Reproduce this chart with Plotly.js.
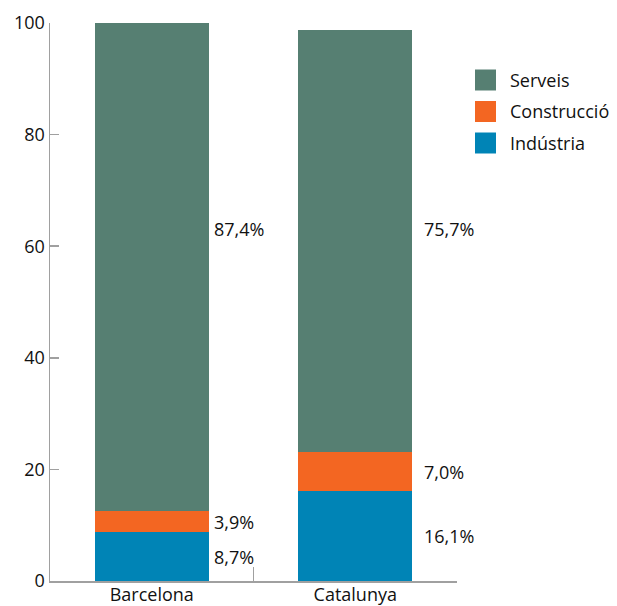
<!DOCTYPE html>
<html>
<head>
<meta charset="utf-8">
<script src="https://cdn.plot.ly/plotly-3.0.1.min.js"></script>
<style>html,body{margin:0;padding:0;background:#fff;}#chart{width:617px;height:606px;}</style>
</head>
<body>
<div id="chart"></div>
<script>
const categories = ["Barcelona", "Catalunya"];
const seriesNames = ["Indústria", "Construcció", "Serveis"];
const industria = [8.7, 16.1];
const construccio = [3.9, 7.0];
const serveis = [87.4, 75.7];
const yTicks = [0, 20, 40, 60, 80, 100];

const values = [industria, construccio, serveis];
const colors = ["#0084b6", "#f36622", "#567f72"];
const FONT = "Open Sans, Noto Sans, sans-serif";
const barWidth = 0.56;
const labelGap = [3, 10];
const topLabelY = 63;

const W = 617, H = 606, mL = 50, mR = 160, mT = 23, mB = 25;
const pw = W - mL - mR, ph = H - mT - mB;
const px2x = p => (p - mL) / pw;
const px2y = p => (H - mB - p) / ph;

const traces = values.map((v, i) => ({
  type: "bar",
  name: seriesNames[i],
  x: categories,
  y: v,
  width: barWidth,
  marker: {color: colors[i], line: {width: 0}},
  hoverinfo: "none",
  showlegend: false
}));

const fmt = v => v.toFixed(1).replace(".", ",") + "%";
const annotations = [];
categories.forEach((c, ci) => {
  let base = 0;
  values.forEach((v, si) => {
    const mid = base + v[ci] / 2;
    const y = (si === values.length - 1) ? topLabelY : mid;
    annotations.push({
      x: ci + barWidth / 2, y: y, xref: "x", yref: "y",
      text: fmt(v[ci]), showarrow: false,
      xanchor: "left", yanchor: "middle", xshift: labelGap[ci],
      font: {family: FONT, size: 18, color: "#111"}
    });
    base += v[ci];
  });
});

// custom legend (Serveis on top)
const shapes = [];
const legendOrder = [2, 1, 0];
legendOrder.forEach((si, k) => {
  const cy = 80 + k * 31.5;
  shapes.push({
    type: "rect", xref: "paper", yref: "paper",
    x0: px2x(475), x1: px2x(496), y0: px2y(cy + 10.5), y1: px2y(cy - 10.5),
    fillcolor: colors[si], line: {width: 0}
  });
  annotations.push({
    xref: "paper", yref: "paper", x: px2x(508), y: px2y(cy),
    xanchor: "left", yanchor: "middle", showarrow: false,
    text: seriesNames[si], font: {family: FONT, size: 18, color: "#111"}
  });
});

const layout = {
  width: W, height: H,
  margin: {l: mL, r: mR, t: mT, b: mB, pad: 0},
  barmode: "stack",
  paper_bgcolor: "#fff", plot_bgcolor: "#fff",
  font: {family: FONT, size: 18, color: "#111"},
  showlegend: false,
  xaxis: {
    type: "category", range: [-0.5, 1.5],
    showline: true, linecolor: "#a0a0a0", linewidth: 1.5,
    ticks: "inside", tickson: "boundaries", ticklen: 14, tickwidth: 1.5, tickcolor: "#a0a0a0",
    ticklabelstandoff: -3,
    showgrid: false, zeroline: false,
    tickfont: {family: FONT, size: 18, color: "#111"}
  },
  yaxis: {
    range: [0, 100], tickvals: yTicks, ticktext: yTicks.map(String),
    showline: true, linecolor: "#a0a0a0", linewidth: 1.5,
    ticks: "inside", ticklen: 9, tickwidth: 1.5, tickcolor: "#a0a0a0",
    showgrid: false, zeroline: false,
    tickfont: {family: FONT, size: 18, color: "#111"}
  },
  annotations: annotations,
  shapes: shapes
};

Plotly.newPlot("chart", traces, layout, {displayModeBar: false, staticPlot: true});
</script>
</body>
</html>
